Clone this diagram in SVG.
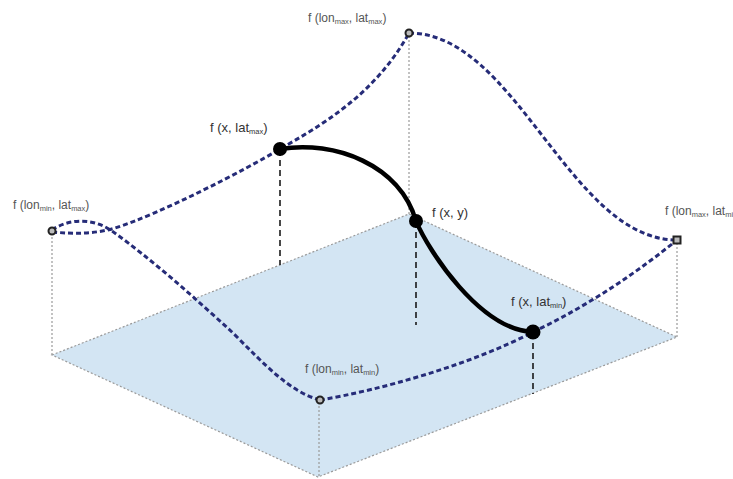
<svg xmlns="http://www.w3.org/2000/svg" width="733" height="479" viewBox="0 0 733 479">
<style>
.guide{fill:none;stroke:#9a9a9a;stroke-width:1.2;stroke-dasharray:2 2}
.plane{fill:#d3e5f3;stroke:#9a9a9a;stroke-width:1.2;stroke-dasharray:2 2}
.drop{fill:none;stroke:#1a1a1a;stroke-width:1.6;stroke-dasharray:6 4}
.curve{fill:none;stroke:#262c78;stroke-width:3;stroke-dasharray:5 3;stroke-linecap:butt}
.slice{fill:none;stroke:#000;stroke-width:4.5;stroke-linecap:round}
.big{fill:#000}
.small{fill:#bbb;stroke:#222;stroke-width:2}
.lbl{font-family:"Liberation Sans",Arial,sans-serif;font-size:13px;fill:#333}
.clbl{font-family:"Liberation Sans",Arial,sans-serif;font-size:12px;fill:#555}
.sub{font-size:7.5px}
</style>
<rect width="733" height="479" fill="#fff"/>
<polygon class="plane" points="52,355 409,214 677,337 318,477"/>
<g id="guides">
<line class="guide" x1="52" y1="233" x2="52" y2="355"/>
<line class="guide" x1="409" y1="36" x2="409" y2="214"/>
<line class="guide" x1="677" y1="243" x2="677" y2="337"/>
<line class="guide" x1="319" y1="402" x2="319" y2="477"/>
</g>
<g id="connectors">
<path class="curve" d="M52,232 C75,234 95,234 115,228 C160,214 245,170 280,149 C320,126 375,95 409,33"/>
<path class="curve" d="M52,230 C68,219 92,217 112,231 C150,258 195,298 233,333 C265,365 290,392 320,400"/>
<path class="curve" d="M409,33 C516,33 570,240 677,240"/>
<path class="curve" d="M320,400 C380,390 470,365 533,332 C590,305 640,270 677,240"/>
<line class="drop" x1="280" y1="150" x2="280" y2="265"/>
<line class="drop" x1="416" y1="222" x2="416" y2="325"/>
<line class="drop" x1="533" y1="333" x2="533" y2="394"/>
<path class="slice" d="M280,149 C335,140 400,165 416,221 C428,250 480,330 533,332"/>
</g>
<g id="n-lonmin-latmax">
<circle class="small" cx="52" cy="231" r="3.5"/>
<text class="clbl" x="13" y="209">f (lon<tspan class="sub" dy="2">min</tspan><tspan dy="-2">, lat</tspan><tspan class="sub" dy="2">max</tspan><tspan dy="-2">)</tspan></text>
</g>
<g id="n-lonmax-latmax">
<circle class="small" cx="409" cy="33" r="3.5"/>
<text class="clbl" x="308" y="22">f (lon<tspan class="sub" dy="2">max</tspan><tspan dy="-2">, lat</tspan><tspan class="sub" dy="2">max</tspan><tspan dy="-2">)</tspan></text>
</g>
<g id="n-lonmax-latmin">
<rect class="small" x="673.5" y="236.5" width="7" height="7"/>
<text class="clbl" x="665" y="215">f (lon<tspan class="sub" dy="2">max</tspan><tspan dy="-2">, lat</tspan><tspan class="sub" dy="2">min</tspan><tspan dy="-2">)</tspan></text>
</g>
<g id="n-lonmin-latmin">
<circle class="small" cx="320" cy="400" r="3.5"/>
<text class="clbl" x="305" y="373">f (lon<tspan class="sub" dy="2">min</tspan><tspan dy="-2">, lat</tspan><tspan class="sub" dy="2">min</tspan><tspan dy="-2">)</tspan></text>
</g>
<g id="n-x-latmax">
<circle class="big" cx="280" cy="149" r="7"/>
<text class="lbl" x="210" y="132">f (x, lat<tspan class="sub" font-size="8" dy="2">max</tspan><tspan dy="-2">)</tspan></text>
</g>
<g id="n-x-y">
<circle class="big" cx="416" cy="221" r="7"/>
<text class="lbl" x="432" y="217">f (x, y)</text>
</g>
<g id="n-x-latmin">
<circle class="big" cx="533" cy="332" r="7.5"/>
<text class="lbl" x="511" y="306">f (x, lat<tspan class="sub" dy="2">min</tspan><tspan dy="-2">)</tspan></text>
</g>
</svg>
